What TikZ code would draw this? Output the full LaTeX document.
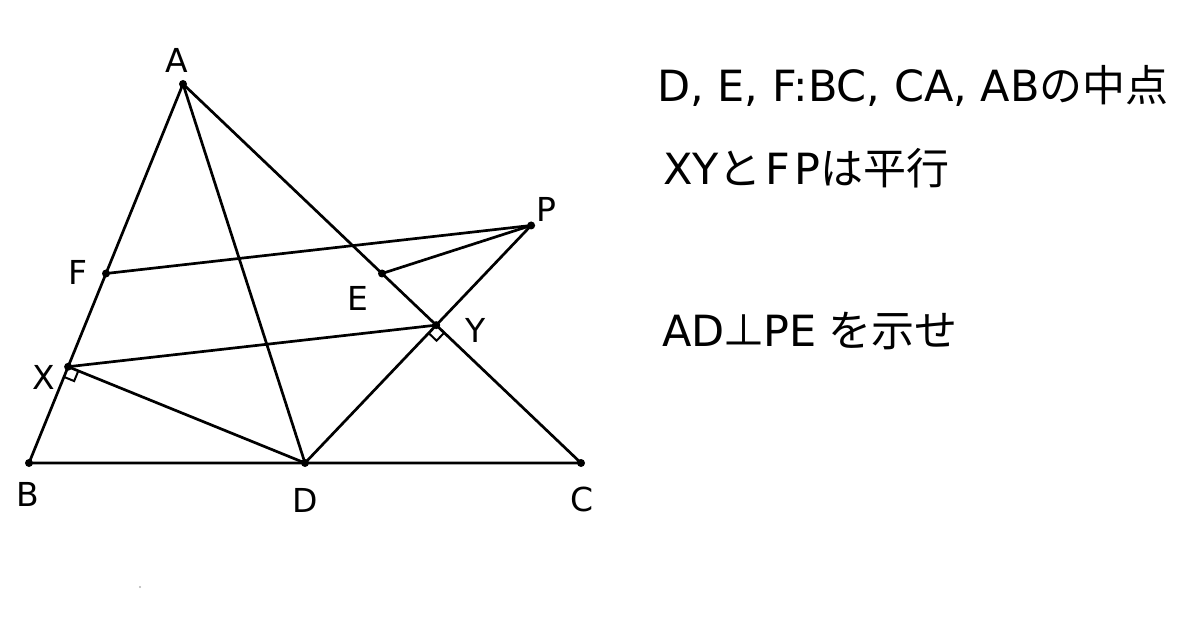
\documentclass[tikz,border=0pt]{standalone}
\usepackage{fontspec}
\setmainfont{DejaVu Sans}
\newfontfamily\jp{Noto Sans CJK JP}
\usetikzlibrary{calc}
\begin{document}
\begin{tikzpicture}[x=1pt,y=-1pt,
  seg/.style={line width=2.7pt, line cap=round},
  rmark/.style={line width=2pt},
  ptdot/.style={fill=black},
  lbl/.style={font=\fontsize{33}{40}\selectfont, inner sep=0pt},
  txt/.style={font=\fontsize{43}{50}\selectfont, anchor=base west, inner sep=0pt}]
\useasboundingbox (0,0) rectangle (1200,628);
% points
\coordinate (A) at (183,84);
\coordinate (B) at (29,463);
\coordinate (C) at (581,463);
\coordinate (D) at ($(B)!0.5!(C)$);
\coordinate (F) at ($(A)!0.5!(B)$);
\coordinate (E) at ($(A)!0.5!(C)$);
\coordinate (X) at ($(A)!(D)!(B)$);
\coordinate (Y) at ($(A)!(D)!(C)$);
\coordinate (Fq) at ($(F)+(Y)-(X)$);
\coordinate (P) at (intersection of F--Fq and D--Y);
% segments
\draw[seg] (A) -- (B) -- (C) -- cycle;
\draw[seg] (A) -- (D);
\draw[seg] (F) -- (P);
\draw[seg] (E) -- (P);
\draw[seg] (X) -- (Y);
\draw[seg] (X) -- (D);
\draw[seg] (D) -- (P);
% right-angle marks
\draw[rmark] ($(X)!11pt!(B)$) -- ($(X)!11pt!(B)!11pt!90:(B)$) -- ($(X)!11pt!(D)$);
\draw[rmark] ($(Y)!11pt!(C)$) -- ($(Y)!11pt!(C)!11pt!-90:(C)$) -- ($(Y)!11pt!(D)$);
% dots
\foreach \p in {A,B,C,D,E,F,X,Y,P} \fill[ptdot] (\p) circle (4pt);
\fill[gray!60] (140,587) circle (1.2pt);
% labels
\node[lbl] (lA) at (177,60) {A};
\node[lbl] (lB) at (28,494) {B};
\node[lbl] (lD) at (305,500) {D};
\node[lbl] (lC) at (582,499) {C};
\node[lbl] (lF) at (78,272) {F};
\node[lbl] (lE) at (358,298) {E};
\node[lbl] (lP) at (546,209) {P};
\node[lbl] (lY) at (476,330) {Y};
\node[lbl] (lX) at (44,377) {X};
% text
\node[txt] (t1) at (657,102) {D, E, F:BC, CA, AB{\jp の中点}};
\node[txt] (t2) at (663,185) {XY{\jp と}\hspace{4pt}F\hspace{4pt}P{\jp は平行}};
\node[txt] (t3) at (662,347) {AD\kern-2pt{\jp ⊥}\kern-2pt PE\hspace{12pt}{\jp を示せ}};
\end{tikzpicture}
\end{document}
